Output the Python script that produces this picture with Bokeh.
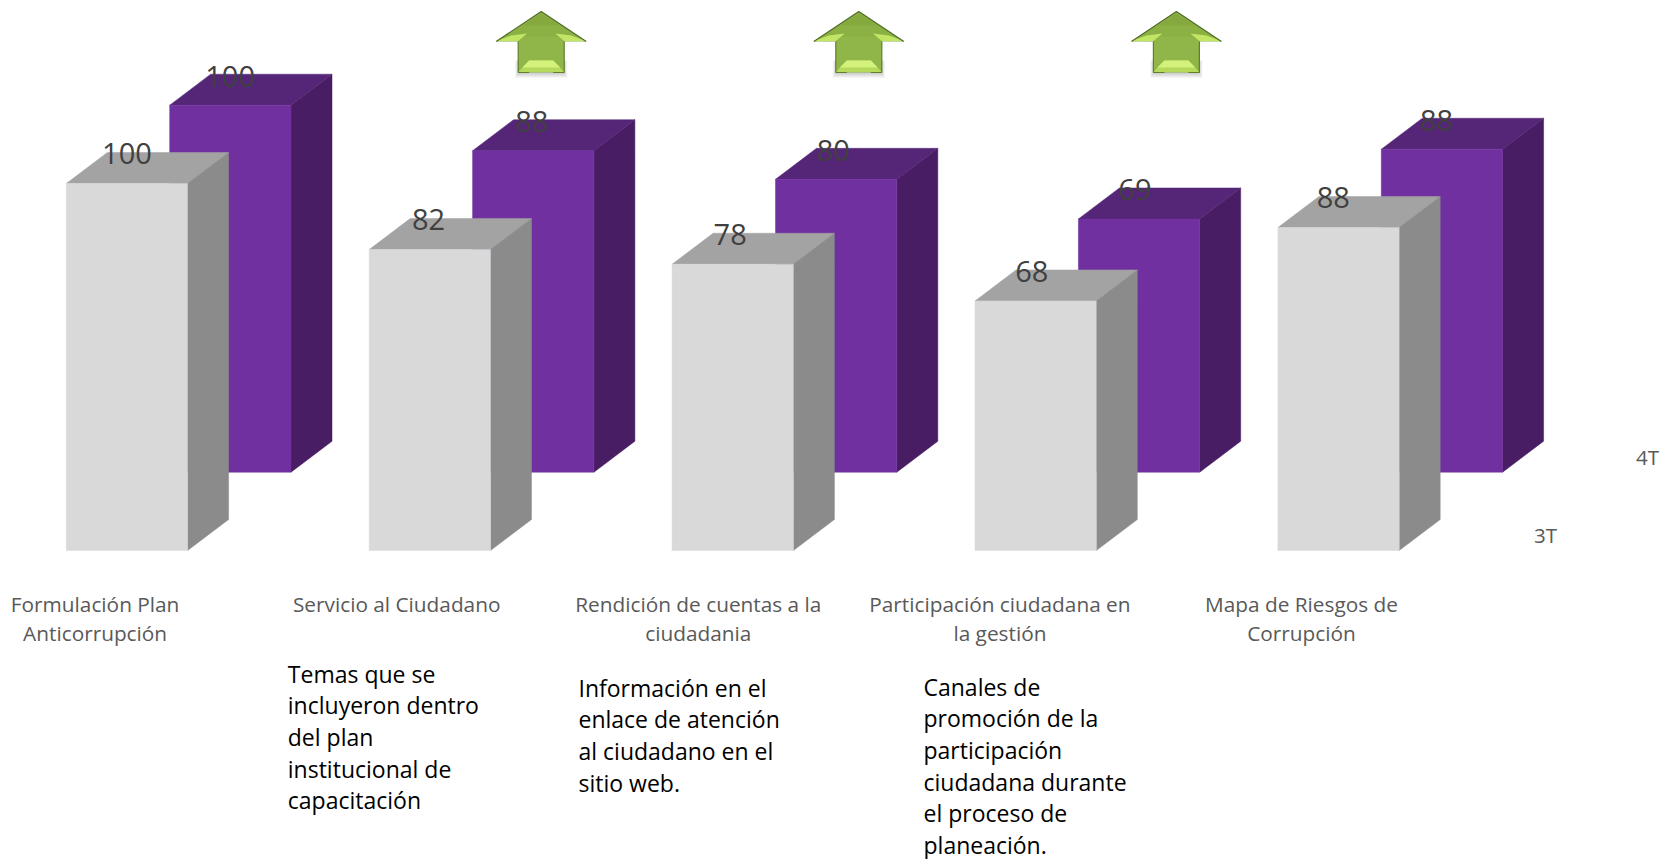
from bokeh.plotting import figure
from bokeh.models import Range1d
from bokeh.core.properties import value
from bokeh.embed import file_html
from bokeh.resources import INLINE

# ---- data ----
categories = [
    "Formulación Plan\nAnticorrupción",
    "Servicio al Ciudadano",
    "Rendición de cuentas a la\nciudadania",
    "Participación ciudadana en\nla gestión",
    "Mapa de Riesgos de\nCorrupción",
]
series_3t = [100, 82, 78, 68, 88]
series_4t = [100, 87.6, 79.8, 69, 88]
series_names = ["3T", "4T"]
arrow_categories = [1, 2, 3]
notes = [
    "Temas que se\nincluyeron dentro\ndel plan\ninstitucional de\ncapacitación",
    "Información en el\nenlace de atención\nal ciudadano en el\nsitio web.",
    "Canales de\npromoción de la\nparticipación\nciudadana durante\nel proceso de\nplaneación.",
]

# ---- layout ----
W, H = 1662, 859
PX_X = 302.9          # px per category
PX_Y = 3.67           # px per value unit
X0, Y0 = 65.8, 550.0  # page px of first bar's front-left foot
LABEL_STEP = 301.6 / PX_X

p = figure(width=W, height=H, output_backend="svg", toolbar_location=None,
           x_range=Range1d(-X0 / PX_X, (W - X0) / PX_X),
           y_range=Range1d((Y0 - H) / PX_Y, Y0 / PX_Y),
           min_border=0, outline_line_color=None, background_fill_color="white")
p.axis.visible = False
p.grid.visible = False

BW = 121.3 / PX_X
DX = 41 / PX_X
DY = 31 / PX_Y
S_DX = 103.4 / PX_X   # 4T series sits behind 3T in depth
S_DY = 78.3 / PX_Y


def bars(vals, dx, dy, front, top, side):
    fx, fy, tx, ty, sx, sy = [], [], [], [], [], []
    for i, v in enumerate(vals):
        l, r = i + dx, i + dx + BW
        b, t = dy, dy + v
        fx.append([l, r, r, l]); fy.append([b, b, t, t])
        tx.append([l, r, r + DX, l + DX]); ty.append([t, t, t + DY, t + DY])
        sx.append([r, r + DX, r + DX, r]); sy.append([b, b + DY, t + DY, t])
    p.patches(sx, sy, fill_color=side, line_color=side, line_width=0.5)
    p.patches(tx, ty, fill_color=top, line_color=top, line_width=0.5)
    p.patches(fx, fy, fill_color=front, line_color=front, line_width=0.5)


bars(series_4t, S_DX, S_DY, "#7030a0", "#552677", "#481d63")
bars(series_3t, 0, 0, "#d9d9d9", "#a3a3a3", "#8b8b8b")

label_font = value("Open Sans")


def txt(x, y, s, size, color, align="center", baseline="middle", lh=1.0):
    p.text(x=x, y=y, text=s, text_font=label_font, text_font_size=size, text_color=color,
           text_align=align, text_baseline=baseline, text_line_height=lh)


# value labels
cx = BW / 2
idx = range(len(categories))
txt([i * LABEL_STEP + cx for i in idx], [v + 29.8 / PX_Y for v in series_3t],
    [str(round(v)) for v in series_3t], "29px", "#404040")
txt([i * LABEL_STEP + S_DX + cx - 0.2 / PX_X for i in idx], [v + S_DY + 29 / PX_Y for v in series_4t],
    [str(round(v)) for v in series_4t], "29px", "#404040")

# category labels
cat_dx = (94.6 - X0) / PX_X
for i, c in zip(idx, categories):
    txt([i * LABEL_STEP + cat_dx], [(Y0 - 589) / PX_Y], [c], "20.8px", "#595959", baseline="top", lh=1.05)

# depth labels
txt([(1545 - X0) / PX_X], [(Y0 - 534) / PX_Y], [series_names[0]], "20.5px", "#595959")
txt([(1647 - X0) / PX_X], [(Y0 - 456) / PX_Y], [series_names[1]], "20.5px", "#595959")

# notes
note_cats = [1, 2, 3]
note_dx = [(287.3 - X0 - PX_X) / PX_X, (578 - X0 - 2 * PX_X) / PX_X, (923 - X0 - 3 * PX_X) / PX_X]
note_y = [657, 671, 670]
for c, d, py, s in zip(note_cats, note_dx, note_y, notes):
    txt([c + d], [(Y0 - py) / PX_Y], [s], "23px", "#000000", align="left", baseline="top", lh=0.99)

# arrows
for k, c in enumerate(arrow_categories):
    ax = (540.7 + 317.6 * k - X0) / PX_X

    def X(dpx):
        return ax + dpx / PX_X

    def Y(py):
        return (Y0 - py) / PX_Y

    # soft shadow, built from stacked translucent layers
    for grow in range(7):
        a = 0.035
        p.patch([X(-22 - grow * 0.7), X(22 + grow * 0.7), X(22 + grow * 0.7), X(-22 - grow * 0.7)],
                [Y(60), Y(60), Y(72 + grow * 0.9), Y(72 + grow * 0.9)],
                fill_color="#000000", fill_alpha=a, line_color=None)
        p.patch([X(-44 + grow), X(-23), X(23), X(44 - grow)],
                [Y(41), Y(41), Y(41 + grow * 0.9), Y(41 + grow * 0.9)],
                fill_color="#000000", fill_alpha=a * 0.6, line_color=None)
    # body
    p.patch([X(0), X(45), X(23), X(23), X(-23), X(-23), X(-45)],
            [Y(11), Y(41), Y(41), Y(72), Y(72), Y(41), Y(41)],
            fill_color="#90b548", line_color=None)
    # upper facets: slightly darker towards the apex
    p.patch([X(0), X(36), X(-36)], [Y(12), Y(36), Y(36)], fill_color="#8bb044", line_color=None)
    p.patch([X(0), X(18), X(-18)], [Y(13), Y(25), Y(25)], fill_color="#85a93f", line_color=None)
    # bevels
    p.patch([X(-23), X(23), X(12), X(-12)], [Y(71.5), Y(71.5), Y(60), Y(60)], fill_color="#b5d95a", line_color=None)
    p.patch([X(-19), X(19), X(12), X(-12)], [Y(67), Y(67), Y(60), Y(60)], fill_color="#d3f27c", line_color=None)
    p.patch([X(-45), X(-23), X(-14), X(-30)], [Y(40.5), Y(40.5), Y(33), Y(35)], fill_color="#c3e565", line_color=None)
    p.patch([X(45), X(23), X(14), X(30)], [Y(40.5), Y(40.5), Y(33), Y(35)], fill_color="#c3e565", line_color=None)
    # dark edges
    p.line([X(-45), X(0), X(45)], [Y(41), Y(11), Y(41)], line_color="#4f6b26", line_width=1.2)
    p.line([X(-23), X(-23), X(-12)], [Y(41), Y(72), Y(72)], line_color="#5f7f2c", line_width=1.2)
    p.line([X(23), X(23), X(12)], [Y(41), Y(72), Y(72)], line_color="#5f7f2c", line_width=1.2)

open("out.html", "w").write(file_html(p, INLINE))
